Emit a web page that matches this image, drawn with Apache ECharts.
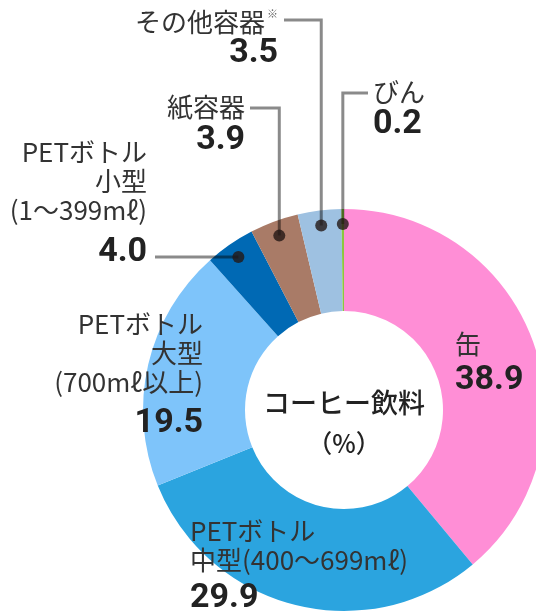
<!DOCTYPE html>
<html><head><meta charset="utf-8">
<script src="https://cdn.jsdelivr.net/npm/echarts@6/dist/echarts.min.js"></script>
<style>html,body{margin:0;padding:0;background:#fff}#c{width:536px;height:615px}</style>
</head><body><div id="c"></div>
<script>
// ---- data ----
const categories = ['缶','PETボトル中型','PETボトル大型','PETボトル小型','紙容器','その他容器','びん'];
const labelTexts = [['缶'],['PETボトル','中型(400〜699mℓ)'],['PETボトル','大型','(700mℓ以上)'],['PETボトル','小型','(1〜399mℓ)'],['紙容器'],['その他容器'],['びん']];
const values = [38.9, 29.9, 19.5, 4.0, 3.9, 3.5, 0.2];
const notes = ['','','','','','※',''];
const centerTitle = ['コーヒー飲料','（%）'];

// ---- style / layout ----
const colors = ['#FF8ED6','#2BA4DF','#7EC4FA','#0069B4','#A97B67','#9EC1E1','#8CC63F'];
const CX = 344, CY = 410, R0 = 99, R1 = 201, DOT_R = 186;
const FONT = '"Noto Sans CJK JP", "Noto Sans", sans-serif';
const layout = [
  {x:455, y:330, align:'left',  vlh:43},
  {x:190, y:517, align:'left',  vlh:47},
  {x:203, y:310, align:'right', vlh:53},
  {x:147, y:138, align:'right', vlh:55, lead:{x:155, straight:true}},
  {x:245, y:93,  align:'right', vlh:37, lead:{x:250, y:108}},
  {x:278, y:8,   align:'right', vlh:33, lead:{x:284, y:20}},
  {x:373, y:78,  align:'left',  vlh:35, lead:{x:368, y:93}}
];

const total = values.reduce((a,b)=>a+b,0);
let cum = 0;
const mids = values.map(v => { const m = cum + v/2; cum += v; return m; });
function dotXY(i){ const a = mids[i]/total*2*Math.PI; return [CX + DOT_R*Math.sin(a), CY - DOT_R*Math.cos(a)]; }

const rich = {
  n:{fontSize:26, lineHeight:29, color:'#333', fontFamily:FONT},
  s:{fontSize:11, lineHeight:29, color:'#666', fontFamily:FONT, verticalAlign:'top', padding:[0,0,10,2]}
};
layout.forEach((L,i)=>{ rich['v'+i] = {fontSize:34, fontWeight:'bold', fontFamily:'Roboto', color:'#222', lineHeight:L.vlh}; });

const pieData = categories.map((c,i)=>({ name:c, value:values[i], itemStyle:{color:colors[i]} }));
const leadIdx = layout.map((L,i)=> L.lead ? i : -1).filter(i=>i>=0);
const dotData = leadIdx.map(i => [DOT_R, mids[i]]);

const chart = echarts.init(document.getElementById('c'), null, {renderer:'canvas'});
chart.setOption({
  animation:false,
  backgroundColor:'#fff',
  polar:{center:[CX,CY], radius:R1},
  angleAxis:{type:'value', min:0, max:total, startAngle:90, clockwise:true, show:false},
  radiusAxis:{type:'value', min:0, max:R1, show:false},
  graphic:[
    {type:'text', x:CX, y:403, z:20, style:{text:centerTitle[0], fill:'#222', font:'500 27px '+FONT, textAlign:'center', textVerticalAlign:'middle'}},
    {type:'text', x:CX, y:443, z:20, style:{text:centerTitle[1], fill:'#222', font:'500 25px '+FONT, textAlign:'center', textVerticalAlign:'middle'}}
  ],
  series:[
    {
      type:'pie', center:[CX,CY], radius:[R0,R1], startAngle:90, clockwise:true,
      avoidLabelOverlap:false, silent:true, z:1,
      itemStyle:{borderWidth:0},
      label:{show:true, position:'outside', rich:rich,
        formatter:p=>{
          const i = p.dataIndex, lines = labelTexts[i];
          const s = lines.map((l,k)=> '{n|'+l+'}' + (k===lines.length-1 && notes[i] ? '{s|'+notes[i]+'}' : '')).join('\n');
          return s + '\n{v'+i+'|'+values[i].toFixed(1)+'}';
        }},
      labelLine:{show:false},
      labelLayout:p=>{
        const L = layout[p.dataIndex];
        return {x:L.x, y:L.y, align:L.align, verticalAlign:'top'};
      },
      data:pieData
    },
    {
      type:'custom', coordinateSystem:'none', silent:true, z:30,
      data:leadIdx,
      renderItem:(params, api)=>{
        const i = leadIdx[params.dataIndex], L = layout[i], d = dotXY(i);
        const pts = L.lead.straight ? [d,[L.lead.x,d[1]]] : [d,[d[0],L.lead.y],[L.lead.x,L.lead.y]];
        return {type:'polyline', shape:{points:pts}, style:{stroke:'rgba(0,0,0,0.46)', lineWidth:3, fill:null}};
      }
    },
    {
      type:'scatter', coordinateSystem:'polar', silent:true, z:40,
      symbol:'circle', symbolSize:12, itemStyle:{color:'#231815'},
      data:dotData
    }
  ]
});
</script></body></html>
